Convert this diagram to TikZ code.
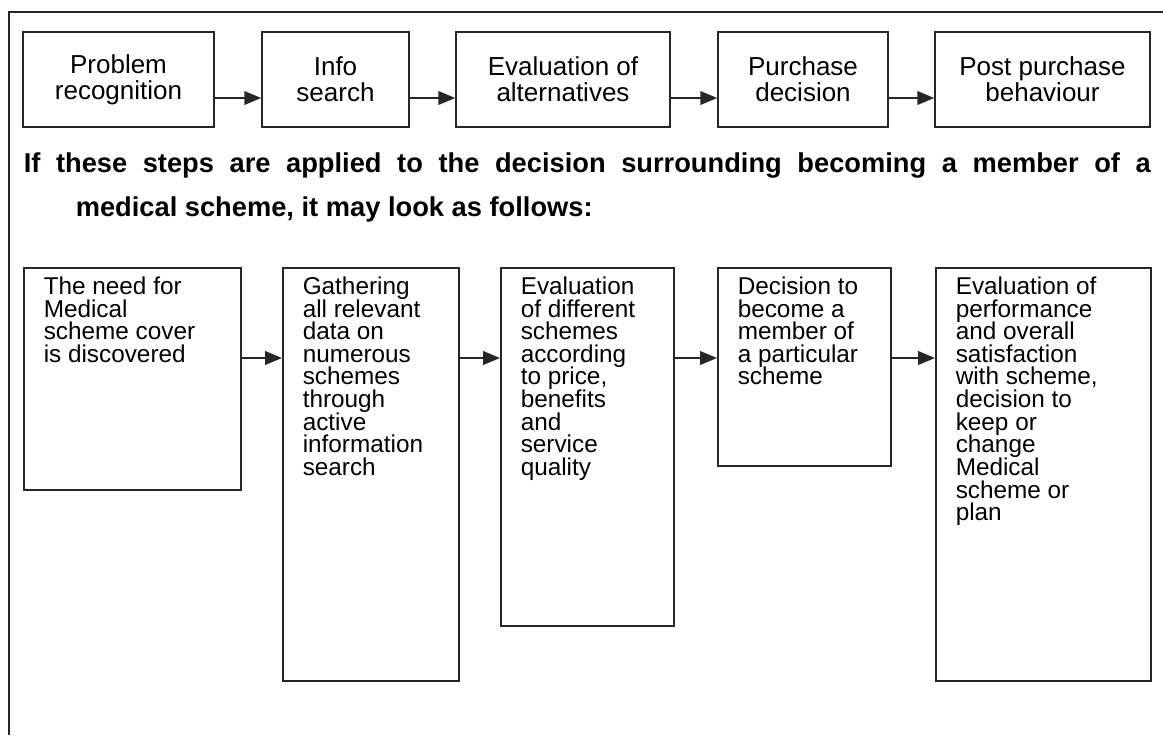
\documentclass[tikz,border=0pt]{standalone}
\usepackage{fontspec}
\setmainfont{Liberation Sans}
\usetikzlibrary{arrows.meta}
\tikzset{
  block/.style = {draw, align=center, minimum height=2.375cm, font=\fontsize{18.5}{18.5}\selectfont},
  stage/.style = {draw, anchor=north west, inner xsep=0.5cm, inner ysep=0.225cm},
  flow/.style = {-{Triangle[length=0.42cm,width=0.34cm]}}
}
\newcommand{\stagetext}[3]{\parbox[t][#1][t]{#2}{\fontsize{17.3}{16.1}\selectfont\lineskiplimit=-20pt\raggedright #3}}

\begin{document}
\begin{tikzpicture}[line width=1.1pt, draw=black!85]
\useasboundingbox (0,0) rectangle (29.075,-18.375);
% frame
\draw[line width=0.8pt] (29.075,-0.3) -- (0.225,-0.3) -- (0.225,-18.375);
% general steps
\node[block, minimum width=4.775cm] (p1) at (2.9625,-1.9875) {Problem\\recognition};
\node[block, minimum width=3.675cm] (p2) at (8.3875,-1.9875) {Info\\search};
\node[block, minimum width=5.35cm] (p3) at (14.075,-1.9875) {Evaluation of\\alternatives};
\node[block, minimum width=4.25cm] (p4) at (20.075,-1.9875) {Purchase\\decision};
\node[block, minimum width=5.375cm] (p5) at (26.0625,-1.9875) {Post purchase\\behaviour};
\draw[flow] ([yshift=-0.4625cm]p1.east) -- ([yshift=-0.4625cm]p2.west);
\draw[flow] ([yshift=-0.4625cm]p2.east) -- ([yshift=-0.4625cm]p3.west);
\draw[flow] ([yshift=-0.4625cm]p3.east) -- ([yshift=-0.4625cm]p4.west);
\draw[flow] ([yshift=-0.4625cm]p4.east) -- ([yshift=-0.4625cm]p5.west);
% heading
\node[anchor=base west, text width=28.175cm, align=justify, inner sep=0pt] (intro) at (0.575,-4.3)
  {\fontsize{19.4}{31.3}\selectfont\bfseries If these steps are applied to the decision surrounding becoming a member of a\linebreak
   medical scheme, it may look as follows:\hangindent=1.3cm\hangafter=1\par};
% medical scheme steps
\node[stage] (need) at (0.575,-6.675) {\stagetext{5.1cm}{4.425cm}{The need for\\Medical\\scheme cover\\is discovered}};
\node[stage] (gather) at (7.05,-6.675) {\stagetext{9.875cm}{3.4cm}{Gathering\\all relevant\\data on\\numerous\\schemes\\through\\active\\information\\search}};
\node[stage] (compare) at (12.5,-6.675) {\stagetext{8.5cm}{3.325cm}{Evaluation\\of different\\schemes\\according\\to price,\\benefits\\and\\service\\quality}};
\node[stage] (join) at (17.925,-6.675) {\stagetext{4.5cm}{3.325cm}{Decision to\\become a\\member of\\a particular\\scheme}};
\node[stage] (review) at (23.375,-6.675) {\stagetext{9.875cm}{4.375cm}{Evaluation of\\performance\\and overall\\satisfaction\\with scheme,\\decision to\\keep or\\change\\Medical\\scheme or\\plan}};
\draw[flow] ([yshift=-2.275cm]need.north east) -- ([yshift=-2.275cm]gather.north west);
\draw[flow] ([yshift=-2.275cm]gather.north east) -- ([yshift=-2.275cm]compare.north west);
\draw[flow] ([yshift=-2.275cm]compare.north east) -- ([yshift=-2.275cm]join.north west);
\draw[flow] ([yshift=-2.275cm]join.north east) -- ([yshift=-2.275cm]review.north west);
\end{tikzpicture}
\end{document}
